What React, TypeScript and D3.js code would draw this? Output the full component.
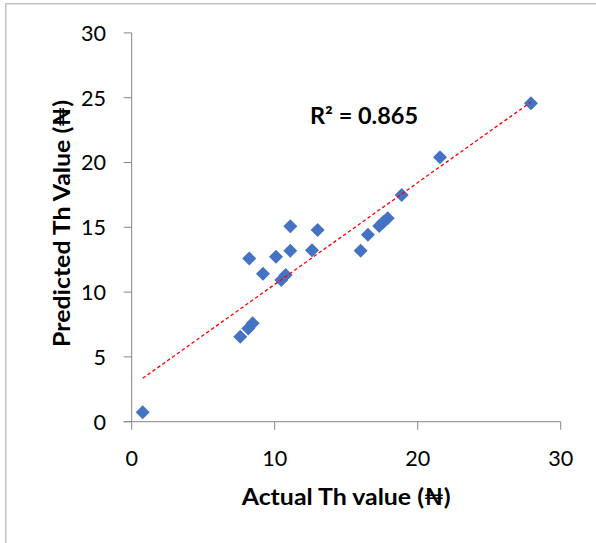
import React from "react";
import * as d3 from "d3";

const actual = [0.77, 7.59, 8.15, 8.46, 8.22, 9.18, 10.09, 10.46, 10.77, 11.09, 11.09, 12.61, 13.0, 16.01, 16.52, 17.31, 17.6, 17.9, 18.88, 21.56, 27.92];
const predicted = [0.73, 6.56, 7.2, 7.59, 12.6, 11.42, 12.73, 10.93, 11.32, 15.08, 13.2, 13.22, 14.79, 13.2, 14.43, 15.1, 15.4, 15.7, 17.49, 20.4, 24.57];
const xTicks = [0, 10, 20, 30];
const yTicks = [0, 5, 10, 15, 20, 25, 30];
const xTitle = "Actual Th value (₦)";
const yTitle = "Predicted Th Value (₦)";
const r2Label = "R² = 0.865";

const W = 596;
const H = 543;
const FONT = "Lato, 'Open Sans', sans-serif";
const AXIS = "#868686";

export default function App() {
  const x = d3.scaleLinear().domain([0, 30]).range([131.7, 560.7]);
  const y = d3.scaleLinear().domain([0, 30]).range([421.7, 32.9]);

  const pts = actual.map((a, i) => ({ a, p: predicted[i] }));
  const mx = d3.mean(actual) as number;
  const my = d3.mean(predicted) as number;
  let sxy = 0, sxx = 0;
  pts.forEach(({ a, p }) => { sxy += (a - mx) * (p - my); sxx += (a - mx) * (a - mx); });
  const slope = sxy / sxx;
  const icpt = my - slope * mx;
  const [xmin, xmax] = d3.extent(actual) as [number, number];
  const trend = d3.line<number>().x((v) => x(v)).y((v) => y(icpt + slope * v))([xmin, xmax]) as string;

  const diamond = d3.symbol(d3.symbolSquare, 98)() as string;
  const x0 = x(0);
  const y0 = y(0);

  return (
    <svg width={W} height={H} style={{ position: "absolute", left: 0, top: 0, background: "#fff" }}>
      <rect x={5.75} y={3.75} width={800} height={800} fill="#fff" stroke="#c4c4c4" strokeWidth={1.5} />
      {/* axes */}
      <line x1={x0} x2={x0} y1={y(30)} y2={y0} stroke={AXIS} strokeWidth={1} />
      <line x1={x0 - 8} x2={x(30)} y1={y0} y2={y0} stroke={AXIS} strokeWidth={1} />
      {yTicks.map((t) => (
        <g key={"y" + t}>
          <line x1={x0 - 8} x2={x0} y1={y(t)} y2={y(t)} stroke={AXIS} strokeWidth={1} />
          <text x={106} y={y(t) + 7.8} textAnchor="end" fontFamily={FONT} fontSize={21.6} fill="#000">{t}</text>
        </g>
      ))}
      {xTicks.map((t) => (
        <g key={"x" + t}>
          <line x1={x(t)} x2={x(t)} y1={y0} y2={y0 + 8} stroke={AXIS} strokeWidth={1} />
          <text x={x(t)} y={465.5} textAnchor="middle" fontFamily={FONT} fontSize={21.6} fill="#000">{t}</text>
        </g>
      ))}
      {/* markers */}
      {pts.map((d, i) => (
        <path key={i} d={diamond} transform={`translate(${x(d.a)},${y(d.p)}) rotate(45)`} fill="#4472C4" />
      ))}
      {/* trendline */}
      <path d={trend} fill="none" stroke="#FF0000" strokeWidth={1.3} strokeDasharray="3.5,2.5" />
      {/* labels */}
      <text x={310} y={124.3} fontFamily={FONT} fontWeight="bold" fontSize={22.5} textLength={108} lengthAdjust="spacingAndGlyphs" fill="#000">{r2Label}</text>
      <text x={346.2} y={505} textAnchor="middle" fontFamily={FONT} fontWeight="bold" fontSize={22.5} textLength={209} lengthAdjust="spacingAndGlyphs" fill="#000">{xTitle}</text>
      <text transform={`translate(70,223.5) rotate(-90)`} textAnchor="middle" fontFamily={FONT} fontWeight="bold" fontSize={22.5} textLength={247} lengthAdjust="spacingAndGlyphs" fill="#000">{yTitle}</text>
    </svg>
  );
}
